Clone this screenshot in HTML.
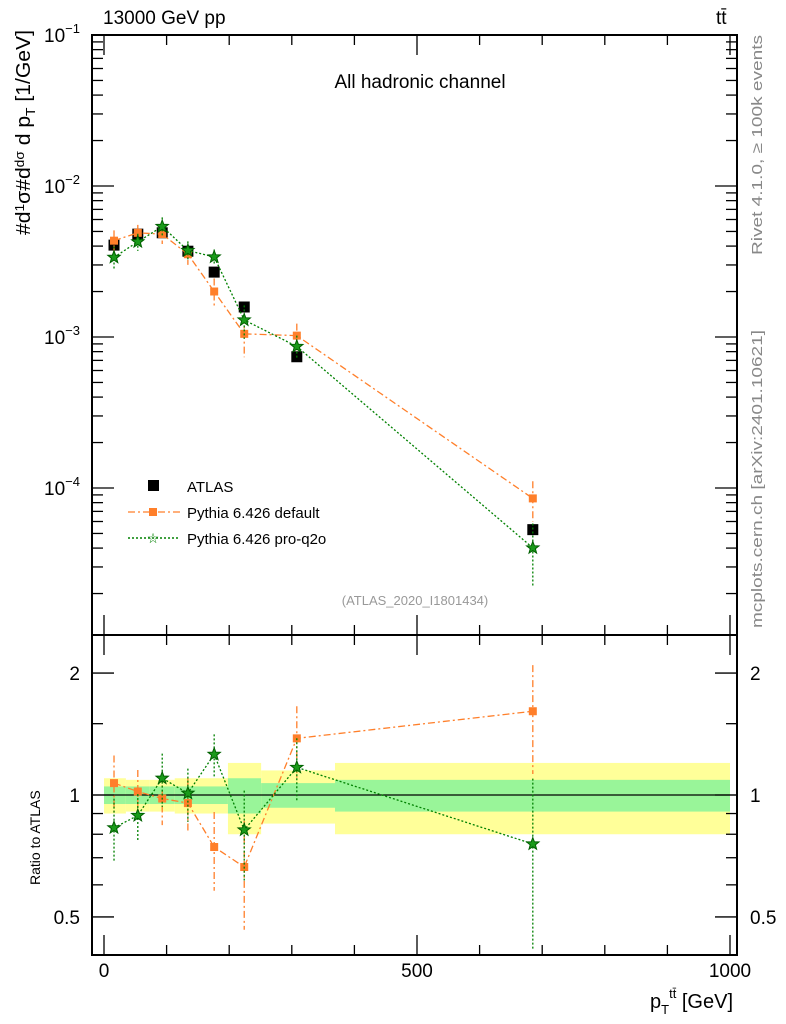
<!DOCTYPE html>
<html><head><meta charset="utf-8"><style>
body{margin:0;background:#fff}
svg{display:block;font-family:"Liberation Sans",sans-serif}
</style></head><body>
<svg id="c" width="786" height="1024" xmlns="http://www.w3.org/2000/svg">
<g id="bands"></g>
<g id="marks"></g>
<rect x="92" y="35" width="645" height="600" fill="none" stroke="#000" stroke-width="2"/>
<rect x="92" y="635" width="645" height="320" fill="none" stroke="#000" stroke-width="2"/>
<g id="ticks"></g>
<text x="103" y="24" font-size="19">13000 GeV pp</text>
<text x="716" y="24" font-size="19">tt̄</text>
<text x="420" y="88" font-size="19" text-anchor="middle">All hadronic channel</text>
<text x="415" y="605" font-size="13" fill="#999" text-anchor="middle">(ATLAS_2020_I1801434)</text>
<text transform="translate(762,255) rotate(-90)" font-size="15" fill="#888" textLength="220" lengthAdjust="spacingAndGlyphs">Rivet 4.1.0, ≥ 100k events</text>
<text transform="translate(762,628) rotate(-90)" font-size="15" fill="#888" textLength="298" lengthAdjust="spacingAndGlyphs">mcplots.cern.ch [arXiv:2401.10621]</text>
<text transform="translate(30,235) rotate(-90)" font-size="20" textLength="205" lengthAdjust="spacingAndGlyphs">#d<tspan font-size="13" dy="-6">1</tspan><tspan dy="6">σ</tspan>#d<tspan font-size="13" dy="-6">dσ</tspan><tspan dy="6"> d p</tspan><tspan font-size="13" dy="5">T</tspan><tspan dy="-5"> [1/GeV]</tspan></text>
<text transform="translate(40,885) rotate(-90)" font-size="14">Ratio to ATLAS</text>
<text x="650" y="1008" font-size="20">p<tspan font-size="13" dy="6">T</tspan><tspan font-size="13" dy="-16">tt̄</tspan><tspan dy="10"> [GeV]</tspan></text>
<g>
<rect x="148" y="480" width="11" height="11" fill="#000"/>
<text x="187" y="492" font-size="15">ATLAS</text>
<line x1="128" y1="512" x2="180" y2="512" stroke="#ff7f2a" stroke-width="1.3" stroke-dasharray="7,3,2,3"/>
<rect x="149" y="508" width="8" height="8" fill="#ff7f2a"/>
<text x="187" y="518" font-size="15">Pythia 6.426 default</text>
<line x1="128" y1="538" x2="180" y2="538" stroke="#008000" stroke-width="1.5" stroke-dasharray="2,2"/>
<text x="153" y="543" font-size="14" fill="#008000" text-anchor="middle">☆</text>
<text x="187" y="544" font-size="15">Pythia 6.426 pro-q2o</text>
</g>
</svg>
<script>
const xs=[16,54,93,134,176,224,308,685];
const atlas=[4.06e-3,4.8e-3,4.9e-3,3.7e-3,2.69e-3,1.58e-3,7.4e-4,5.3e-5];
const ratioDefault=[1.07,1.02,0.98,0.955,0.744,0.664,1.38,1.61];
const errDefault=[0.17,0.13,0.14,0.15,0.22,0.30,0.20,0.30];
const ratioProq2o=[0.83,0.89,1.10,1.01,1.26,0.82,1.17,0.757];
const errProq2o=[0.18,0.13,0.15,0.15,0.12,0.25,0.18,0.45];
const binEdges=[0,35,73,113,198,251,369,1000];
const bandInner=[0.05,0.05,0.05,0.05,0.1,0.07,0.09];
const bandOuter=[0.1,0.09,0.09,0.1,0.2,0.15,0.2];
const NS='http://www.w3.org/2000/svg';
const X=v=>104+v*0.626;
const Y=v=>35+(-1-Math.log10(v))*151;
const R=v=>795-Math.log10(v)*405;
function mk(p,t,a){const e=document.createElementNS(NS,t);for(const k in a)e.setAttribute(k,a[k]);p.appendChild(e);return e;}
const g=document.getElementById('marks'),bg=document.getElementById('bands'),tk=document.getElementById('ticks');
for(let i=0;i<bandOuter.length;i++){
 const x1=X(binEdges[i]),x2=X(binEdges[i+1]);
 let r=mk(bg,'rect',{x:x1,y:R(1+bandOuter[i]),width:x2-x1,height:R(1-bandOuter[i])-R(1+bandOuter[i]),fill:'#ffff99'});
 
 
 r=mk(bg,'rect',{x:x1,y:R(1+bandInner[i]),width:x2-x1,height:R(1-bandInner[i])-R(1+bandInner[i]),fill:'#99f599'});
 
 
}
let ln=mk(g,'line',{x1:92,x2:737,y1:R(1),y2:R(1),stroke:'#000','stroke-width':1.3});


function star(cx,cy,s){let p='';for(let k=0;k<10;k++){const a=-Math.PI/2+k*Math.PI/5,r=k%2?s*0.42:s;p+=(cx+r*Math.cos(a)).toFixed(1)+','+(cy+r*Math.sin(a)).toFixed(1)+' ';}return p;}
function series(ratios,errs,color,dash,isStar,name){
 const pm=[],pr=[];
 ratios.forEach((r,i)=>{const v=atlas[i]*r;pm.push(X(xs[i])+','+Y(v));pr.push(X(xs[i])+','+R(r));});
 let l=mk(g,'polyline',{points:pm.join(' '),fill:'none',stroke:color,'stroke-width':1.3,'stroke-dasharray':dash});
 
 
 l=mk(g,'polyline',{points:pr.join(' '),fill:'none',stroke:color,'stroke-width':1.3,'stroke-dasharray':dash});
 
 
 ratios.forEach((r,i)=>{
  const x=X(xs[i]),v=atlas[i]*r;
  [[Y,v],[R,r]].forEach(([f,val])=>{
   let e=mk(g,'line',{x1:x,x2:x,y1:f(val*(1+errs[i])),y2:f(val*(1-errs[i])),stroke:color,'stroke-width':1.3,'stroke-dasharray':dash});
   
   
   let m;
   if(isStar)m=mk(g,'polygon',{points:star(x,f(val),6.5),fill:'#1a9a1a',stroke:'#006000','stroke-width':1});
   else m=mk(g,'rect',{x:x-4,y:f(val)-4,width:8,height:8,fill:color});
   
   
  });
 });
}
atlas.forEach((v,i)=>{const m=mk(g,'rect',{x:X(xs[i])-5.5,y:Y(v)-5.5,width:11,height:11,fill:'#000'});
 
 });
series(ratioDefault,errDefault,'#ff7f2a','7,3,2,3',false,'pythia-default');
series(ratioProq2o,errProq2o,'#008000','2,2',true,'pythia-proq2o');
function tl(x1,y1,x2,y2){mk(tk,'line',{x1,y1,x2,y2,stroke:'#000','stroke-width':1.3});}
function tx(x,y,s,a,fs){const t=mk(tk,'text',{x,y,'font-size':fs||19,'text-anchor':a});t.textContent=s;return t;}
for(let d=-5;d<=-1;d++){for(let m=1;m<10;m++){const v=m*Math.pow(10,d);const y=Y(v);if(y<35||y>635)continue;const L=m==1?22:11;tl(92,y,92+L,y);tl(737,y,737-L,y);}}
[['-1',-1],['-2',-2],['-3',-3],['-4',-4]].forEach(([s,d])=>{const t=tx(80,Y(Math.pow(10,d))+7,'10','end');const sp=mk(t,'tspan',{'font-size':13,dy:-9});sp.textContent='−'+s.slice(1);});
[0.5,0.6,0.7,0.8,0.9,1,1.5,2].forEach(v=>{const y=R(v);const L=[0.5,1,2].includes(v)?22:11;tl(92,y,92+L,y);tl(737,y,737-L,y);});
[[2,'2'],[1,'1'],[0.5,'0.5']].forEach(([v,s])=>{tx(80,R(v)+7,s,'end');tx(750,R(v)+7,s,'start');});
for(let v=0;v<=1000;v+=100){const x=X(v);const L=v%500==0?20:10;tl(x,635,x,635-L);tl(x,35,x,35+L);tl(x,955,x,955-L);tl(x,635,x,635+L);}
[0,500,1000].forEach(v=>tx(X(v),977,String(v),'middle'));
</script>
</body></html>
